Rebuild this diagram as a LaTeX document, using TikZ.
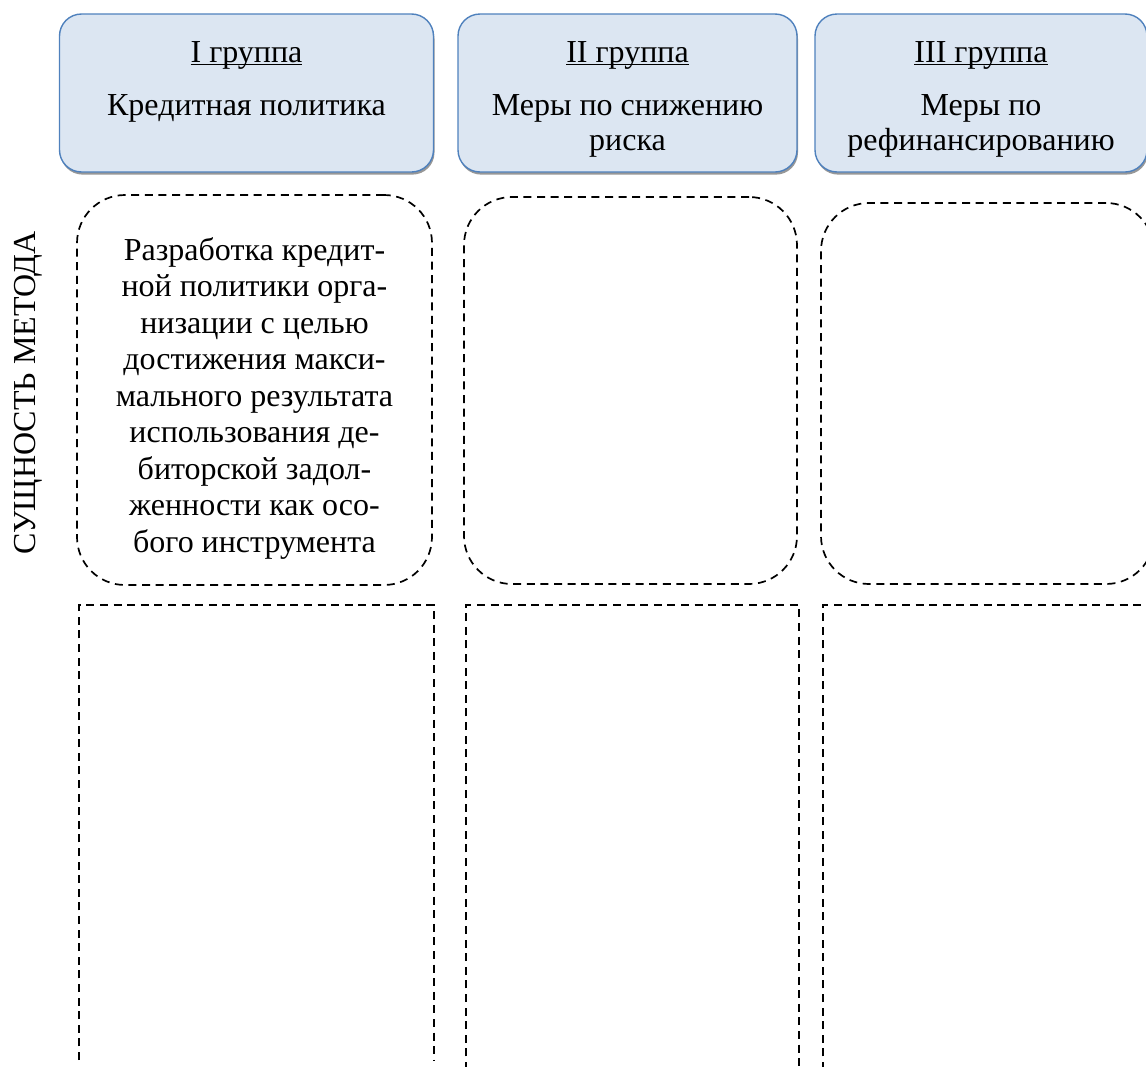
\documentclass[tikz,border=0pt]{standalone}
\usepackage{fontspec}
\setmainfont{Liberation Serif}
\usetikzlibrary{shadows}
\definecolor{hdrfill}{HTML}{DCE6F2}
\definecolor{hdrblue}{HTML}{4F81BD}
\newcommand\grpul[1]{\setbox0=\hbox{#1}\rlap{\rule[-1.4pt]{\wd0}{0.65pt}}\box0}
\begin{document}
\begin{tikzpicture}[x=0.5pt,y=-0.5pt,
  hdrbox/.style={draw=hdrblue, line width=0.7pt, fill=hdrfill, rounded corners=11pt,
    drop shadow={shadow xshift=0.5pt, shadow yshift=-1.3pt, fill=black!45, opacity=0.9},
    minimum height=79pt, inner sep=0pt},
  dashbox/.style={draw=black, line width=0.85pt, dash pattern=on 4pt off 2.8pt, rounded corners=24pt, inner sep=0pt},
  dashline/.style={draw=black, line width=0.85pt, dash pattern=on 4pt off 2.8pt},
  txt/.style={font=\rmfamily\fontsize{16}{17.5}\selectfont, inner sep=0pt, align=center},
  bodytxt/.style={font=\rmfamily\fontsize{16}{18.25}\selectfont, inner sep=0pt, align=center}]
\useasboundingbox (0,0) rectangle (1146,1066);
\clip (0,0) rectangle (1146,1066);

% header boxes
\node[hdrbox, minimum width=187pt] (h1) at (246.5,93) {};
\node[hdrbox, minimum width=169.5pt] (h2) at (627.5,93) {};
\node[hdrbox, minimum width=166pt] (h3) at (981,93) {};

% header texts (base anchor = baseline of the last line)
\node[txt, anchor=base] (g1) at (246.5,62) {\grpul{I группа}};
\node[txt, anchor=base] (t1) at (246.5,115) {Кредитная политика};
\node[txt, anchor=base] (g2) at (627.5,62) {\grpul{II группа}};
\node[txt, anchor=base] (t2) at (627.5,150) {Меры по снижению\\риска};
\node[txt, anchor=base] (g3) at (981,62) {\grpul{III группа}};
\node[txt, anchor=base] (t3) at (981,150) {Меры по\\рефинансированию};

% vertical label
\node[txt, rotate=90] (lab) at (28,393) {СУЩНОСТЬ МЕТОДА};

% dashed rounded boxes
\node[dashbox, minimum width=177.5pt, minimum height=195pt] (d1) at (254.5,390) {};
\node[dashbox, minimum width=166.5pt, minimum height=193.5pt] (d2) at (630.5,390.5) {};
\node[dashbox, minimum width=166.5pt, minimum height=190.5pt] (d3) at (987.5,393.5) {};

\node[bodytxt, anchor=base] (desc) at (254.5,552) {Разработка кредит-\\ной политики орга-\\низации с целью\\достижения макси-\\мального результата\\использования де-\\биторской задол-\\женности как осо-\\бого инструмента};

% lower open dashed boxes
\draw[dashline] (79,1060) -- (79,605) -- (434,605) -- (434,1060);
\draw[dashline] (466,1070) -- (466,605) -- (799,605) -- (799,1070);
\draw[dashline] (823,1070) -- (823,605) -- (1160,605);
\end{tikzpicture}
\end{document}
